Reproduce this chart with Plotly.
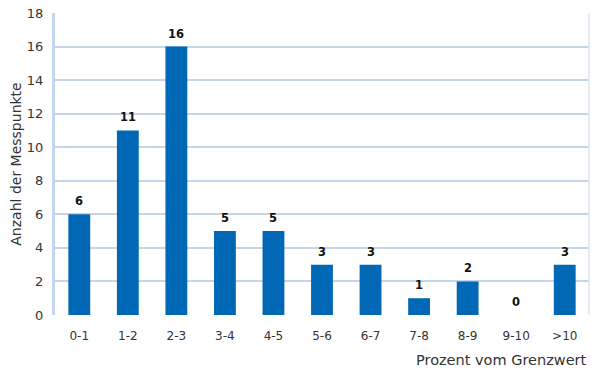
import plotly.graph_objects as go

categories = ["0-1", "1-2", "2-3", "3-4", "4-5", "5-6", "6-7", "7-8", "8-9", "9-10", ">10"]
values = [6, 11, 16, 5, 5, 3, 3, 1, 2, 0, 3]
y_ticks = [0, 2, 4, 6, 8, 10, 12, 14, 16, 18]

bar_color = "#0068b5"
grid_color = "#c6d5ee"

fig = go.Figure()
fig.add_trace(go.Bar(x=categories, y=values, marker=dict(color=bar_color, line=dict(width=0)),
                     width=0.45, showlegend=False, hoverinfo="skip"))

label_annotations = [
    dict(x=c, y=v, text=str(v), xref="x", yref="y", showarrow=False, yanchor="bottom", yshift=4,
         font=dict(family="DejaVu Sans", size=11.5, color="#111111", weight="bold"))
    for c, v in zip(categories, values)
]

fig.update_layout(
    width=595, height=372,
    margin=dict(l=55, r=6, t=9, b=57),
    paper_bgcolor="white", plot_bgcolor="white",
    font=dict(family="DejaVu Sans", color="#333333"),
    xaxis=dict(type="category", showgrid=False, showline=False, zeroline=False, ticks="",
               tickfont=dict(size=12, color="#333333"), ticklabelstandoff=12),
    yaxis=dict(range=[0, 18], tickvals=y_ticks, showgrid=True, gridcolor=grid_color, gridwidth=2,
               zeroline=False, showline=True, linecolor=grid_color, linewidth=3, ticks="",
               tickfont=dict(size=13, color="#333333"), ticklabelstandoff=6,
               title=dict(text="Anzahl der Messpunkte", font=dict(size=14, color="#333333"), standoff=2)),
    annotations=label_annotations + [
        dict(text="Prozent vom Grenzwert", xref="paper", yref="paper", x=1.0, y=-0.115,
             xanchor="right", yanchor="top", showarrow=False,
             font=dict(size=14.5, color="#333333"))],
    shapes=[dict(type="line", xref="paper", yref="paper", x0=1, x1=1, y0=0, y1=1,
                 line=dict(color="#dde6f5", width=1.5))],
)

fig.write_html("out.html")
